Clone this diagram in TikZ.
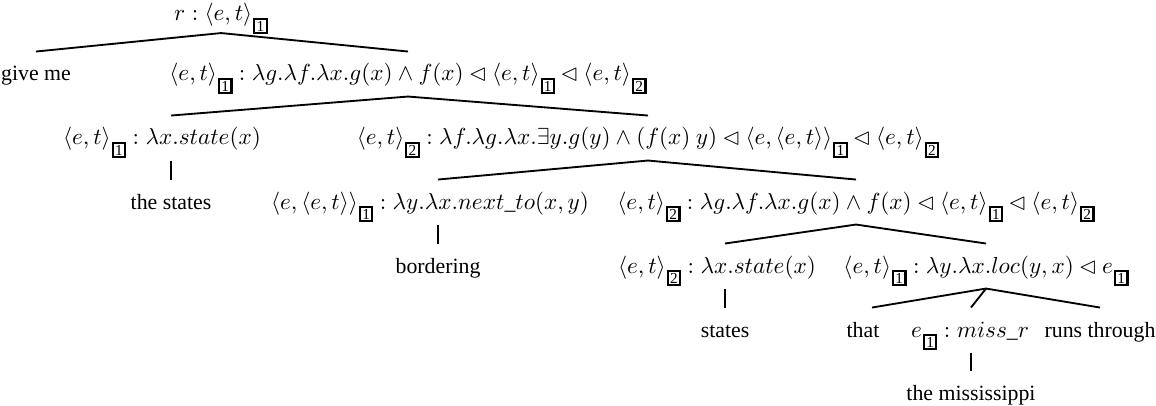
\documentclass[tikz,border=0pt]{standalone}
\usepackage{amsmath,amssymb}
\usepackage[no-math]{fontspec}
\setmainfont{Liberation Serif}[Scale=0.94]
\usepackage{tikz}
\usetikzlibrary{calc}
\setlength{\fboxsep}{0.5pt}
\setlength{\fboxrule}{0.9pt}
\newcommand{\bx}[1]{\kern0.4pt\raisebox{-4.4pt}{\fbox{\makebox[3.5pt]{\fontsize{7}{7}\selectfont #1}}}}
\newcommand{\et}{\langle e,t\rangle}

\begin{document}
\begin{tikzpicture}[x=0.431pt,y=-0.431pt,
  lbl/.style={anchor=base,inner sep=0pt,text height=12.5pt,text depth=6.5pt},
  br/.style={line width=0.8pt}]
  \useasboundingbox (0,0) rectangle (1156,406);
  \node[lbl,text height=7.8pt,text depth=5pt] (root) at (221,21) {$r:\et\bx{1}$};
  \node[lbl] (give) at (36,81) {give me};
  \node[lbl] (A) at (408,81) {$\et\bx{1}:\lambda g.\lambda f.\lambda x.g(x)\wedge f(x)\lhd\et\bx{1}\lhd\et\bx{2}$};
  \node[lbl] (S1) at (162,145) {$\et\bx{1}:\lambda x.state(x)$};
  \node[lbl] (B) at (648,145) {$\et\bx{2}:\lambda f.\lambda g.\lambda x.\exists y.g(y)\wedge(f(x)\ y)\lhd\langle e,\et\rangle\bx{1}\lhd\et\bx{2}$};
  \node[lbl] (thestates) at (171,209) {the states};
  \node[lbl] (C) at (430,209) {$\langle e,\et\rangle\bx{1}:\lambda y.\lambda x.next\_to(x,y)$};
  \node[lbl] (D) at (856,209) {$\et\bx{2}:\lambda g.\lambda f.\lambda x.g(x)\wedge f(x)\lhd\et\bx{1}\lhd\et\bx{2}$};
  \node[lbl] (bordering) at (438,273) {bordering};
  \node[lbl] (S2) at (717,273) {$\et\bx{2}:\lambda x.state(x)$};
  \node[lbl] (E) at (986,273) {$\et\bx{1}:\lambda y.\lambda x.loc(y,x)\lhd e\bx{1}$};
  \node[lbl] (states) at (725,337) {states};
  \node[lbl] (that) at (863,337) {that};
  \node[lbl] (F) at (970,337) {$e\bx{1}:miss\_r$};
  \node[lbl] (runs) at (1100,337) {runs through};
  \node[lbl] (miss) at (971,400) {the mississippi};
  % branches
  \draw[br] (give.north) -- (root.south) -- (A.north);
  \draw[br] (thestates.north |- S1.north) -- (A.south) -- (B.north);
  \draw[br] (thestates.north |- S1.south) -- (thestates.north);
  \draw[br] (bordering.north |- C.north) -- (B.south) -- (D.north);
  \draw[br] (bordering.north |- C.south) -- (bordering.north);
  \draw[br] (states.north |- S2.north) -- (D.south) -- (E.north);
  \draw[br] (states.north |- S2.south) -- (states.north);
  \draw[br] ($(that.north)+(9,0)$) -- (E.south) -- (runs.north);
  \draw[br] (E.south) -- (miss.north |- F.north);
  \draw[br] (miss.north |- F.south) -- (miss.north);
\end{tikzpicture}
\end{document}
